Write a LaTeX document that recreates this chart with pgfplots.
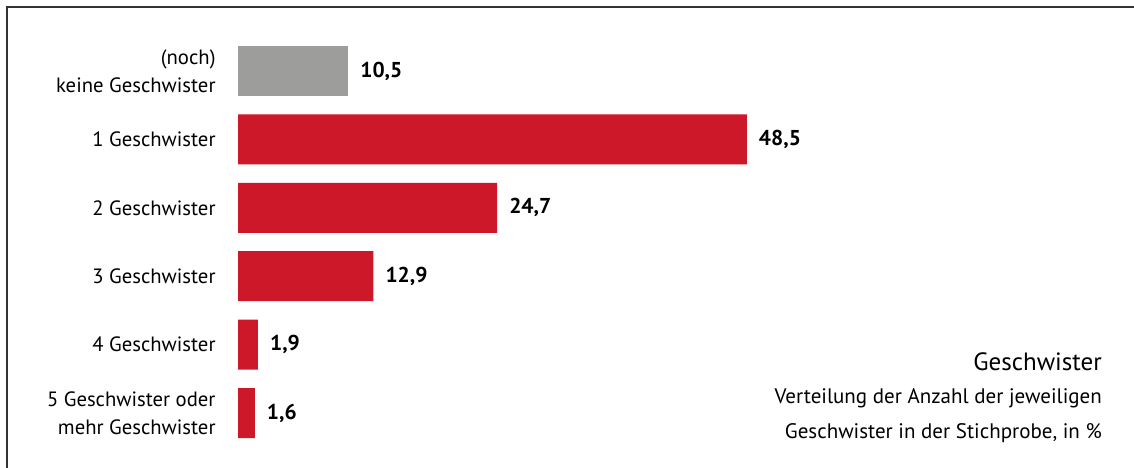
\documentclass[border=0pt]{standalone}
\usepackage{fontspec}
\setmainfont{PT Sans}
\usepackage{pgfplots}
\pgfplotsset{compat=1.18}
\definecolor{barred}{HTML}{CC1829}
\definecolor{bargray}{HTML}{9D9D9C}
\definecolor{framegray}{HTML}{333333}

\begin{document}
\begin{tikzpicture}
  \useasboundingbox (0,0) rectangle (1134bp,468bp);
  \draw[framegray, line width=2bp] (7bp,0) -- (7bp,461bp) -- (1134bp,461bp);

  \begin{axis}[
      at={(238bp,431.2bp)}, anchor=north west,
      xbar, bar width=50bp, bar shift=0pt,
      x=10.49bp, y=68.4bp,
      xmin=0, xmax=83,
      ymin=-0.5, ymax=5.5, y dir=reverse,
      hide x axis,
      y axis line style={draw=none},
      ytick style={draw=none},
      ytick={0,1,2,3,4,5},
      yticklabels={{(noch)\\keine Geschwister}, 1 Geschwister, 2 Geschwister,
        3 Geschwister, 4 Geschwister, {5 Geschwister oder\\mehr Geschwister}},
      yticklabel style={align=right, inner sep=0pt, xshift=-18bp,
        font=\fontsize{20.7bp}{28bp}\selectfont},
      clip=false,
      nodes near coords={\pgfmathprintnumber{\pgfplotspointmeta}},
      nodes near coords style={anchor=west, inner sep=0pt, xshift=12bp,
        font=\fontsize{21.5bp}{24bp}\selectfont\bfseries, text=black,
        /pgf/number format/.cd, use comma, fixed, fixed zerofill, precision=1,
        assume math mode=true},
    ]
    \addplot[fill=bargray, draw=none] coordinates {(10.5,0)};
    \addplot[fill=barred, draw=none] coordinates {
      (48.5,1) (24.7,2) (12.9,3) (1.9,4) (1.6,5)
    };
  \end{axis}

  \node[anchor=base east, inner sep=0pt, font=\fontsize{25bp}{30bp}\selectfont]
    at (1102bp,97bp) {Geschwister};
  \node[anchor=base east, inner sep=0pt, font=\fontsize{21bp}{24bp}\selectfont]
    at (1102bp,64bp) {Verteilung der Anzahl der jeweiligen};
  \node[anchor=base east, inner sep=0pt, font=\fontsize{21bp}{24bp}\selectfont]
    at (1102bp,30bp) {Geschwister in der Stichprobe, in \%};
\end{tikzpicture}
\end{document}
